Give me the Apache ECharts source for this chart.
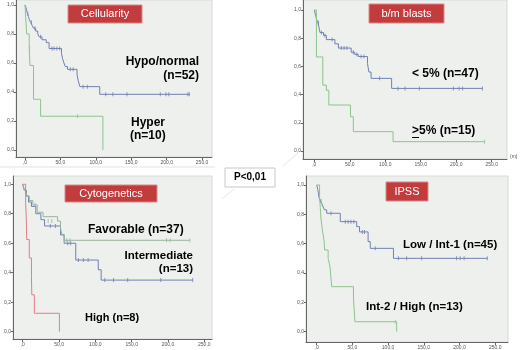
<!DOCTYPE html>
<html><head><meta charset="utf-8">
<script src="https://cdn.jsdelivr.net/npm/echarts@6/dist/echarts.min.js"></script>
<style>html,body{margin:0;padding:0;background:#fff}#c{width:520px;height:350px}</style>
</head><body><div id="c"></div>
<script>
// ---- tick labels ----
const xTickValues = [0, 50, 100, 150, 200, 250];
const xTickLabels = [',0', '50,0', '100,0', '150,0', '200,0', '250,0'];
const yTickValues = [0, 0.2, 0.4, 0.6, 0.8, 1.0];
const yTickLabels = ['0,0', '0,2', '0,4', '0,6', '0,8', '1,0'];

// ---- panel titles / group labels ----
const panelTitles = ['Cellularity', 'b/m blasts', 'Cytogenetics', 'IPSS'];
const pValueText = 'P<0,01';

// ---- Panel 1: Cellularity ----
const hypoSteps = [[0,1],[1.5,0.98],[2.5,0.96],[3.5,0.94],[5,0.92],[6,0.90],[8,0.88],[10,0.86],[12,0.84],[15,0.82],[18,0.80],[20,0.78],[24,0.76],[30,0.74],[34,0.70],[51.5,0.667],[53,0.63],[55,0.60],[57,0.575],[60,0.556],[73.5,0.52],[75,0.48],[77.5,0.437],[105.5,0.384],[232,0.384]];
const hypoCensor = [[4,0.94],[9,0.88],[14,0.84],[22,0.78],[38,0.70],[41,0.70],[45,0.70],[49,0.70],[64,0.556],[68,0.556],[82,0.437],[88,0.437],[114,0.384],[124,0.384],[144,0.384],[191,0.384],[199,0.384],[203,0.384],[230,0.384],[232,0.384]];
const hyperSteps = [[0,1],[2.3,0.8],[6,0.7],[7,0.583],[12,0.35],[22,0.233],[110,0]];
const hyperCensor = [[6.5,0.7],[74,0.233]];

// ---- Panel 2: b/m blasts ----
const lowBlastSteps = [[0,1],[2,0.96],[3.5,0.93],[5,0.91],[7,0.87],[8,0.84],[13,0.82],[17,0.79],[29,0.76],[34,0.73],[52,0.70],[57,0.685],[62,0.67],[75,0.62],[77,0.56],[80,0.515],[109,0.444],[237,0.444]];
const lowBlastCensor = [[6,0.91],[10,0.84],[15,0.82],[25,0.79],[38,0.73],[42,0.73],[46,0.73],[55,0.70],[60,0.685],[66,0.67],[70,0.67],[92,0.515],[118,0.444],[128,0.444],[148,0.444],[196,0.444],[204,0.444],[209,0.444],[237,0.444]];
const highBlastSteps = [[0,1],[3,0.667],[12,0.467],[17,0.43],[20.5,0.326],[51,0.243],[55,0.137],[111,0.066],[240,0.066]];
const highBlastCensor = [[240,0.066]];

// ---- Panel 3: Cytogenetics ----
const favSteps = [[0,1],[2,0.97],[4,0.95],[6,0.92],[9,0.89],[14,0.86],[20,0.81],[28,0.78],[48,0.75],[52,0.70],[54,0.66],[57,0.62],[230,0.62]];
const favCensor = [[8,0.89],[17,0.86],[35,0.75],[40,0.75],[60.5,0.62],[65,0.62],[198,0.62],[203,0.62],[230,0.62]];
const intSteps = [[0,1],[2,0.96],[5,0.92],[8,0.88],[12,0.85],[18,0.80],[25,0.76],[30,0.717],[52,0.656],[57,0.60],[73,0.486],[104,0.42],[108,0.35],[234,0.35]];
const intCensor = [[38,0.717],[45,0.717],[62,0.60],[66,0.60],[76.6,0.486],[83.5,0.486],[90,0.486],[113,0.35],[125,0.35],[144.5,0.35],[190,0.35],[234,0.35]];
const highCytoSteps = [[0,1],[4,0.875],[5,0.75],[5.5,0.625],[9,0.5],[12,0.375],[12.5,0.25],[16,0.125],[50.5,0]];
const highCytoCensor = [];

// ---- Panel 4: IPSS ----
const lowIpssSteps = [[0,1],[1.5,0.97],[2.5,0.94],[3.5,0.91],[5,0.89],[7,0.875],[9,0.85],[11,0.83],[14,0.807],[33,0.75],[56,0.716],[60,0.68],[72,0.614],[75,0.568],[107.5,0.50],[239,0.50]];
const lowIpssCensor = [[6,0.89],[20,0.807],[40,0.75],[44,0.75],[48,0.75],[52,0.75],[64,0.68],[67,0.68],[82,0.568],[114.5,0.5],[126,0.5],[147,0.5],[196,0.5],[201,0.5],[206.5,0.5],[239,0.5]];
const highIpssSteps = [[0,1],[4,0.923],[5,0.846],[6,0.769],[8,0.692],[10.5,0.615],[11,0.557],[16,0.50],[18.7,0.44],[21,0.307],[51.5,0.23],[53.5,0.068],[112,0]];
const highIpssCensor = [[110,0.068]];

// ---- layout (positions / ranges / styles) ----
const BLUE = '#7080b2', GREEN = '#8cc48c', GRAYGREEN = '#98b49c', RED = '#e87a86';
const panels = [
  {grid:{left:16, top:0, width:196, height:157}, x:[-12.7,264], y:[-0.048,1.034]},
  {grid:{left:303, top:0, width:204, height:159}, x:[-15.9,271.6], y:[-0.057,1.071]},
  {grid:{left:13, top:176, width:199, height:163}, x:[-13.4,260.6], y:[-0.0495,1.056]},
  {grid:{left:306, top:176, width:202, height:166}, x:[-15,268], y:[-0.070,1.061]}
];
const curves = [
  {p:0, steps:hypoSteps, censor:hypoCensor, color:BLUE},
  {p:0, steps:hyperSteps, censor:hyperCensor, color:GREEN},
  {p:1, steps:lowBlastSteps, censor:lowBlastCensor, color:BLUE},
  {p:1, steps:highBlastSteps, censor:highBlastCensor, color:GREEN},
  {p:2, steps:intSteps, censor:intCensor, color:BLUE},
  {p:2, steps:favSteps, censor:favCensor, color:GRAYGREEN},
  {p:2, steps:highCytoSteps, censor:highCytoCensor, color:RED},
  {p:3, steps:lowIpssSteps, censor:lowIpssCensor, color:BLUE},
  {p:3, steps:highIpssSteps, censor:highIpssCensor, color:GREEN}
];

const labelFont = {fontSize:5, color:'#555', fontFamily:'Liberation Sans'};
const grids = panels.map(p => Object.assign({show:true, backgroundColor:'#eef0ee', borderColor:'#d6dad6', borderWidth:1, containLabel:false}, p.grid));
const xAxes = panels.map((p,i) => ({
  type:'value', gridIndex:i, min:p.x[0], max:p.x[1],
  axisLine:{show:true, onZero:false, lineStyle:{color:'#666', width:1}},
  axisTick:{show:true, customValues:xTickValues, length:3, lineStyle:{color:'#666'}},
  axisLabel:Object.assign({customValues:xTickValues, margin:3, formatter:v => xTickLabels[xTickValues.indexOf(v)]}, labelFont),
  splitLine:{show:false}
}));
const yAxes = panels.map((p,i) => ({
  type:'value', gridIndex:i, min:p.y[0], max:p.y[1],
  axisLine:{show:true, onZero:false, lineStyle:{color:'#666', width:1}},
  axisTick:{show:true, customValues:yTickValues, length:2, lineStyle:{color:'#666'}},
  axisLabel:Object.assign({customValues:yTickValues, margin:2, formatter:v => yTickLabels[yTickValues.findIndex(t => Math.abs(t-v)<1e-6)]}, labelFont),
  splitLine:{show:false}
}));
const series = [];
curves.forEach(c => {
  series.push({type:'line', xAxisIndex:c.p, yAxisIndex:c.p, data:c.steps, step:'end', showSymbol:false, symbol:'none', lineStyle:{color:c.color, width:1}, silent:true});
  series.push({type:'scatter', xAxisIndex:c.p, yAxisIndex:c.p, data:c.censor, symbol:'rect', symbolSize:[1,4], itemStyle:{color:c.color}, silent:true});
});

function titleBox(x, y, w, h, text) {
  return [
    {type:'rect', shape:{x:x, y:y, width:w, height:h}, style:{fill:'#c23b3d', stroke:'#d98a8a', lineWidth:1}},
    {type:'text', style:{text:text, x:x+w/2, y:y+h/2, align:'center', verticalAlign:'middle', font:'11px "Liberation Sans"', fill:'#fff'}}
  ];
}
function bold(text, x, y, align, size) {
  return {type:'text', style:{text:text, x:x, y:y, align:align||'left', verticalAlign:'middle', font:'bold '+(size||12)+'px "Liberation Sans"', fill:'#000'}};
}
const graphics = [].concat(
  titleBox(68, 5, 74, 18, panelTitles[0]),
  titleBox(369, 4, 75, 19, panelTitles[1]),
  titleBox(65, 185, 92, 17, panelTitles[2]),
  titleBox(386, 182, 42, 19, panelTitles[3]),
  [
    bold('Hypo/normal', 199, 62, 'right'),
    bold('(n=52)', 199, 76, 'right'),
    bold('Hyper', 131, 123, 'left'),
    bold('(n=10)', 130, 136, 'left'),
    bold('< 5% (n=47)', 412, 74, 'left'),
    bold('>5% (n=15)', 412, 131, 'left'),
    {type:'rect', shape:{x:412, y:137, width:7, height:1}, style:{fill:'#000'}},
    bold('Favorable (n=37)', 88, 230, 'left', 12),
    bold('Intermediate', 193, 256, 'right', 11.5),
    bold('(n=13)', 193, 269, 'right', 11.5),
    bold('High (n=8)', 85, 318, 'left', 11),
    bold('Low / Int-1 (n=45)', 403, 245, 'left', 11.5),
    bold('Int-2 / High (n=13)', 366, 307, 'left', 11.5),
    {type:'text', style:{text:'(m)', x:510, y:157, align:'left', verticalAlign:'middle', font:'5px "Liberation Sans"', fill:'#555'}},
    {type:'line', shape:{x1:0, y1:167, x2:215, y2:167}, style:{stroke:'#e2e2e2', lineWidth:1}},
    {type:'line', shape:{x1:283, y1:166, x2:298, y2:153}, style:{stroke:'#e6e6e6', lineWidth:1}},
    {type:'line', shape:{x1:222, y1:199, x2:234, y2:189}, style:{stroke:'#e6e6e6', lineWidth:1}},
    {type:'rect', shape:{x:225, y:168, width:50, height:19}, style:{fill:'#fff', stroke:'#c8c8c8', lineWidth:1}},
    {type:'text', style:{text:pValueText, x:250, y:177.5, align:'center', verticalAlign:'middle', font:'bold 10px "Liberation Sans"', fill:'#000'}}
  ]
);

const chart = echarts.init(document.getElementById('c'), null, {renderer:'canvas'});
chart.setOption({
  animation:false,
  backgroundColor:'#fff',
  grid:grids, xAxis:xAxes, yAxis:yAxes, series:series,
  graphic:graphics
});
</script></body></html>
